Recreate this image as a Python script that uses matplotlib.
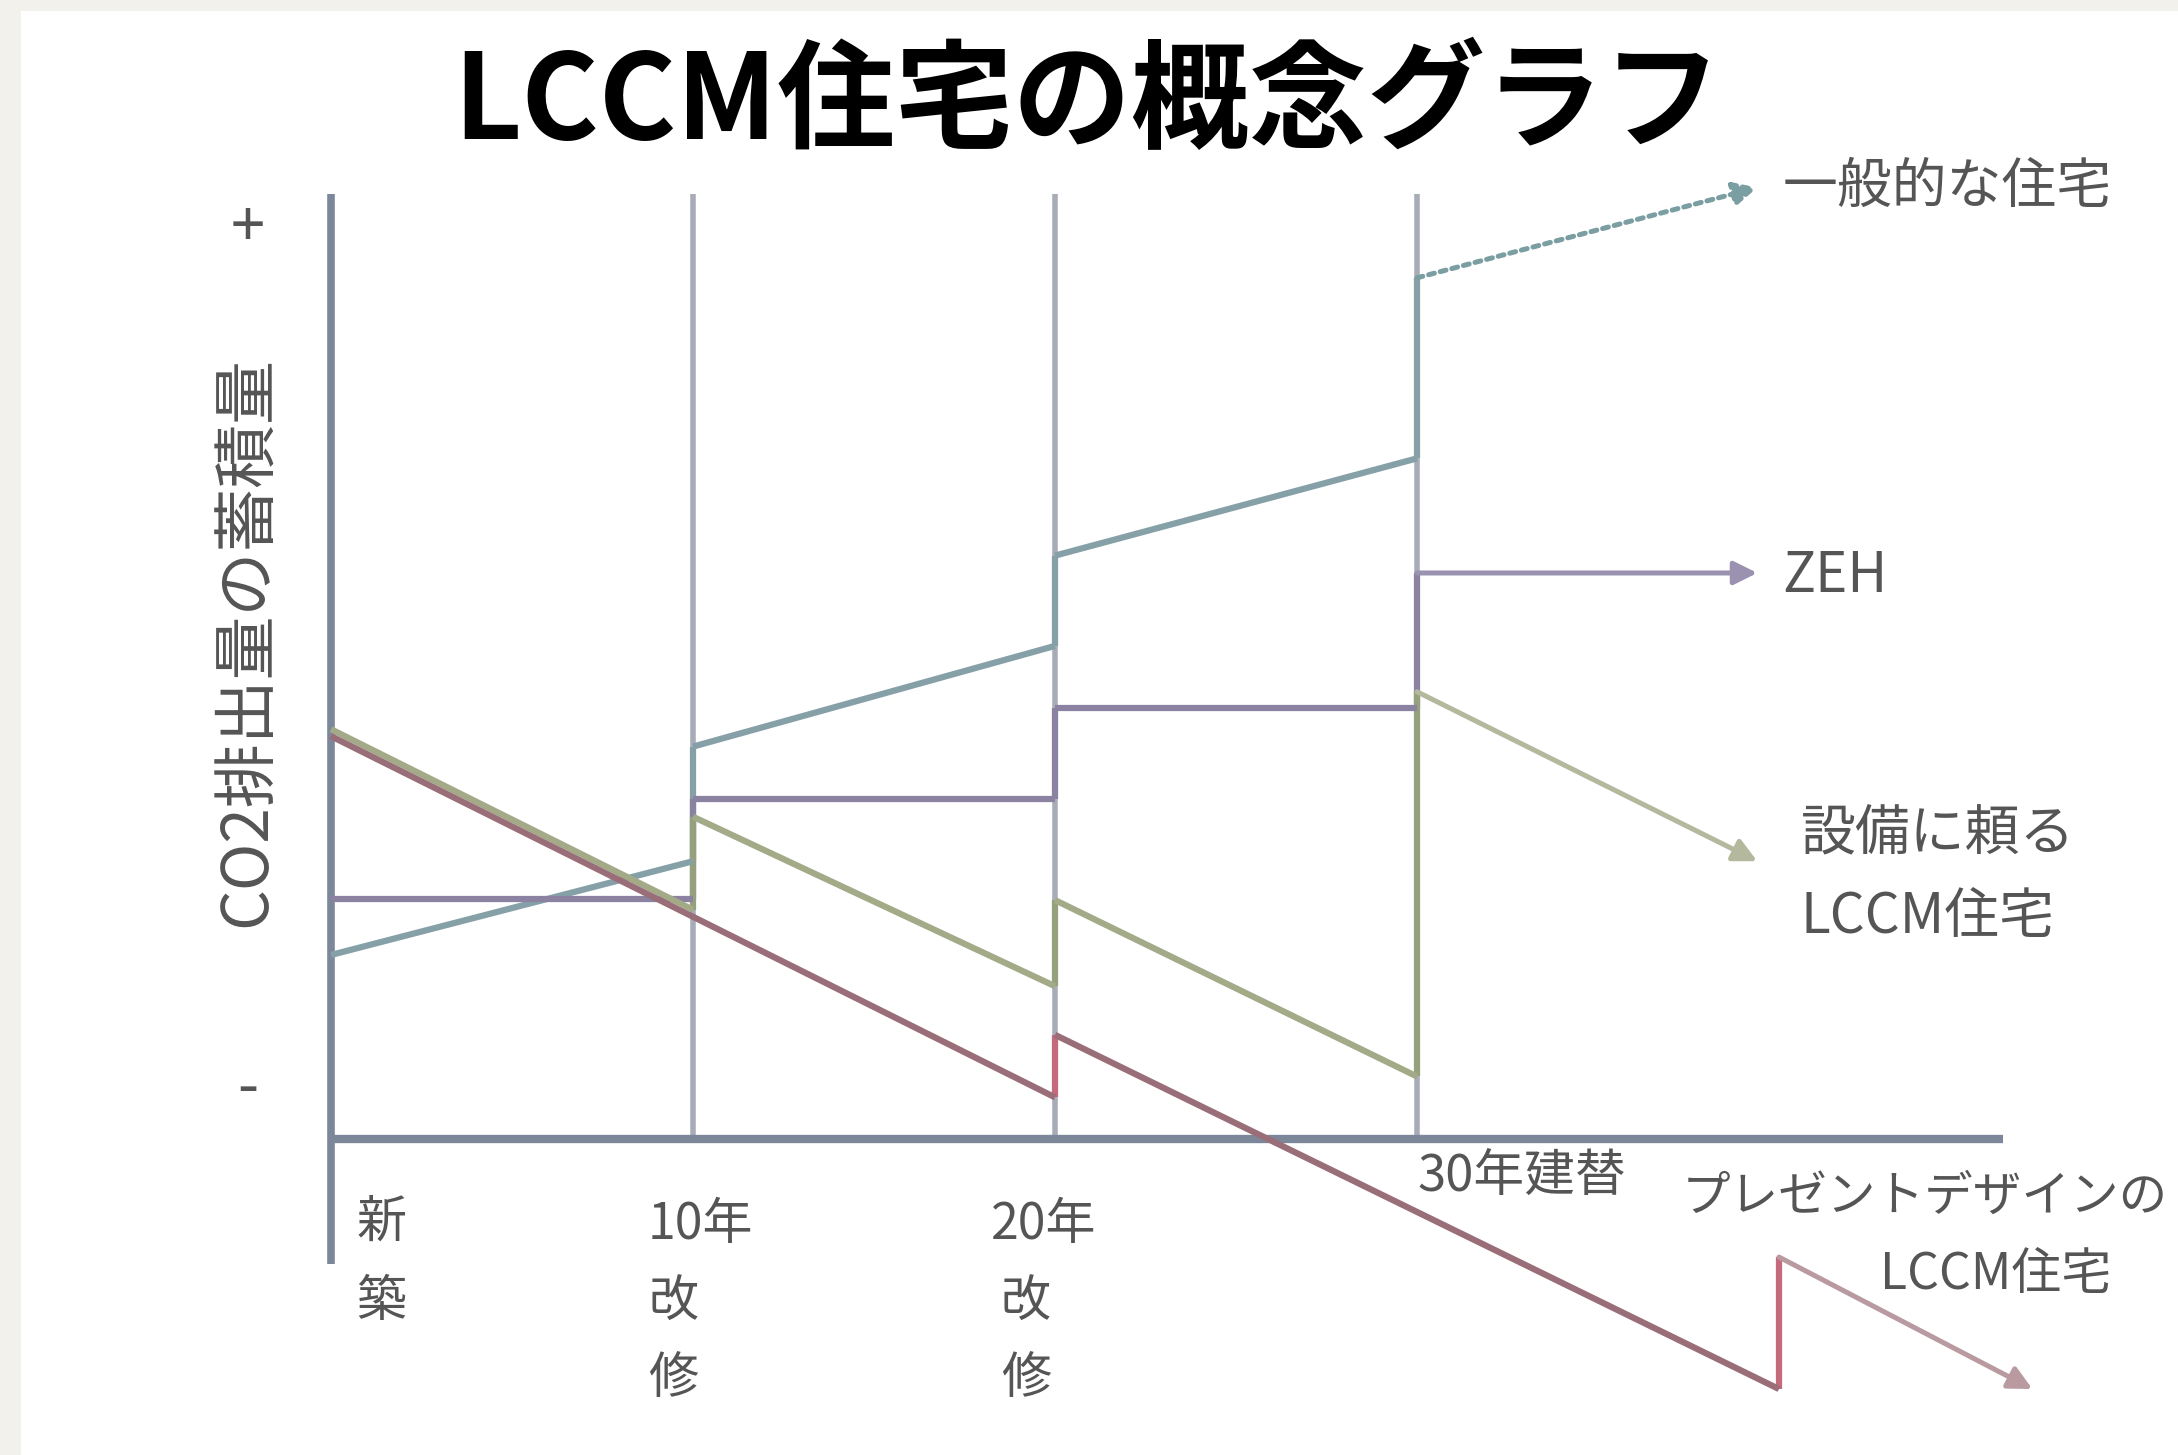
import matplotlib
matplotlib.use("Agg")
import matplotlib.pyplot as plt
from matplotlib.patches import Rectangle

plt.rcParams['font.family'] = ['Noto Sans CJK JP', 'DejaVu Sans']

# ---------------- data (years, relative CO2 accumulation) ----------------
title = "LCCM住宅の概念グラフ"
y_label = "CO2排出量の蓄積量"
milestones = [10, 20, 30]

# 一般的な住宅 (general house): segments between renovations
general_x = [[0, 10], [10, 20], [20, 30]]
general_y = [[2.65, 4.0], [5.65, 7.1], [8.4, 9.8]]
general_jump_x = [10, 20, 30]
general_jump_y = [[4.0, 5.65], [7.1, 8.4], [9.8, 12.4]]
general_future_x = [30, 39.4]
general_future_y = [12.4, 13.7]

# ZEH
zeh_x = [[0, 10], [10, 20], [20, 30]]
zeh_y = [[3.45, 3.45], [4.9, 4.9], [6.2, 6.2]]
zeh_jump_x = [10, 20, 30]
zeh_jump_y = [[3.45, 4.9], [4.9, 6.2], [6.2, 8.15]]
zeh_future_x = [30, 39.4]
zeh_future_y = [8.15, 8.15]

# 設備に頼るLCCM住宅 (equipment-dependent LCCM)
equip_x = [[0, 10], [10, 20], [20, 30]]
equip_y = [[5.9, 3.3], [4.64, 2.2], [3.44, 0.9]]
equip_jump_x = [10, 20, 30]
equip_jump_y = [[3.3, 4.64], [2.2, 3.44], [0.9, 6.44]]
equip_future_x = [30, 39.4]
equip_future_y = [6.44, 4.0]

# プレゼントデザインのLCCM住宅 (Present Design LCCM)
present_x = [[0, 20], [20, 40]]
present_y = [[5.8, 0.6], [1.5, -3.6]]
present_jump_x = [20, 40]
present_jump_y = [[0.6, 1.5], [-3.6, -1.7]]
present_future_x = [40, 47.0]
present_future_y = [-1.7, -3.6]

# under-axis labels: (text, x, y)
under_labels = [("新", 1.4, -1.2), ("築", 1.4, -2.34),
                ("10年", 10.2, -1.24), ("改", 9.46, -2.36), ("修", 9.46, -3.46),
                ("20年", 19.7, -1.24), ("改", 19.2, -2.36), ("修", 19.2, -3.46)]

# ---------------- style ----------------
C_AXIS = "#7c889a"
C_GRID = "#a8acb6"
C_GEN = "#86a0a8"
C_ZEH = "#8a82a0"
C_EQ = "#a2aa88"
C_EQ_V = "#95a07c"
C_PR = "#9a6e78"
C_PR_V = "#c46a7c"
C_TXT = "#555555"

fig = plt.figure(figsize=(21.78, 14.55), dpi=100)
fig.patch.set_facecolor("#f2f1ec")
fig.add_artist(Rectangle((21 / 2178, 0), 1, 1 - 11 / 1455, transform=fig.transFigure,
                         facecolor="white", edgecolor="none", zorder=0))

ax = fig.add_axes([0, 0, 1, 1])
ax.set_facecolor("none")
px_per_year = 36.2
ax.set_xlim(-331 / px_per_year, (2178 - 331) / px_per_year)
px_per_unit = 69.45
ax.set_ylim(-(1455 - 1139) / px_per_unit, 1139 / px_per_unit)
ax.axis("off")

y_top = 13.6
# grid verticals
for m in milestones:
    ax.plot([m, m], [0, y_top], color=C_GRID, lw=4, solid_capstyle="butt", zorder=1)
# axes
ax.plot([0, 0], [-1.8, y_top], color=C_AXIS, lw=5.5, solid_capstyle="butt", zorder=2)
ax.plot([0, 46.2], [0, 0], color=C_AXIS, lw=6, solid_capstyle="butt", zorder=2)

LW = 4.5

def draw_series(xs, ys, jx, jy, color, vcolor):
    for sx, sy in zip(xs, ys):
        ax.plot(sx, sy, color=color, lw=LW, solid_capstyle="butt", zorder=4)
    for x, yy in zip(jx, jy):
        ax.plot([x, x], yy, color=vcolor, lw=LW, solid_capstyle="butt", zorder=3)

def arrow(fx, fy, color, ls="-"):
    ax.annotate("", xy=(fx[1], fy[1]), xytext=(fx[0], fy[0]),
                arrowprops=dict(arrowstyle="-|>", color=color, lw=LW * 0.8,
                                linestyle=ls, mutation_scale=35,
                                shrinkA=0, shrinkB=0), zorder=4)

draw_series(general_x, general_y, general_jump_x, general_jump_y, C_GEN, C_GEN)
arrow(general_future_x, general_future_y, "#7a9ea2", ls=(0, (1.2, 1.2)))

draw_series(zeh_x, zeh_y, zeh_jump_x, zeh_jump_y, C_ZEH, C_ZEH)
arrow(zeh_future_x, zeh_future_y, "#9a92b0")

draw_series(equip_x, equip_y, equip_jump_x, equip_jump_y, C_EQ, C_EQ_V)
arrow(equip_future_x, equip_future_y, "#b4b89c")

draw_series(present_x, present_y, present_jump_x, present_jump_y, C_PR, C_PR_V)
arrow(present_future_x, present_future_y, "#b89aa0")

# ---------------- texts ----------------
ax.text(20.9, 14.9, title, fontsize=85, fontweight="bold", color="black",
        ha="center", va="center")
ax.text(-2.3, 7.16, y_label, fontsize=46, color=C_TXT, rotation=90,
        ha="center", va="center")
ax.text(-2.3, 13.1, "+", fontsize=44, color=C_TXT, ha="center", va="center")
ax.text(-2.3, 0.72, "-", fontsize=44, color=C_TXT, ha="center", va="center")

lab_fs = 39.5
ax.text(40.1, 13.7, "一般的な住宅", fontsize=lab_fs, color=C_TXT, ha="left", va="center")
ax.text(40.1, 8.1, "ZEH", fontsize=lab_fs, color=C_TXT, ha="left", va="center")
ax.text(40.6, 4.4, "設備に頼る", fontsize=lab_fs, color=C_TXT, ha="left", va="center")
ax.text(40.6, 3.2, "LCCM住宅", fontsize=lab_fs, color=C_TXT, ha="left", va="center")
ax.text(30.0, -0.56, "30年建替", fontsize=36.5, color=C_TXT, ha="left", va="center")
ax.text(37.3, -0.84, "プレゼントデザインの", fontsize=35, color=C_TXT, ha="left", va="center")
ax.text(42.8, -1.96, "LCCM住宅", fontsize=36, color=C_TXT, ha="left", va="center")

for lab, x, y in under_labels:
    ax.text(x, y, lab, fontsize=36, color=C_TXT, ha="center", va="center")

fig.savefig("out.png", dpi=100, facecolor=fig.get_facecolor())
